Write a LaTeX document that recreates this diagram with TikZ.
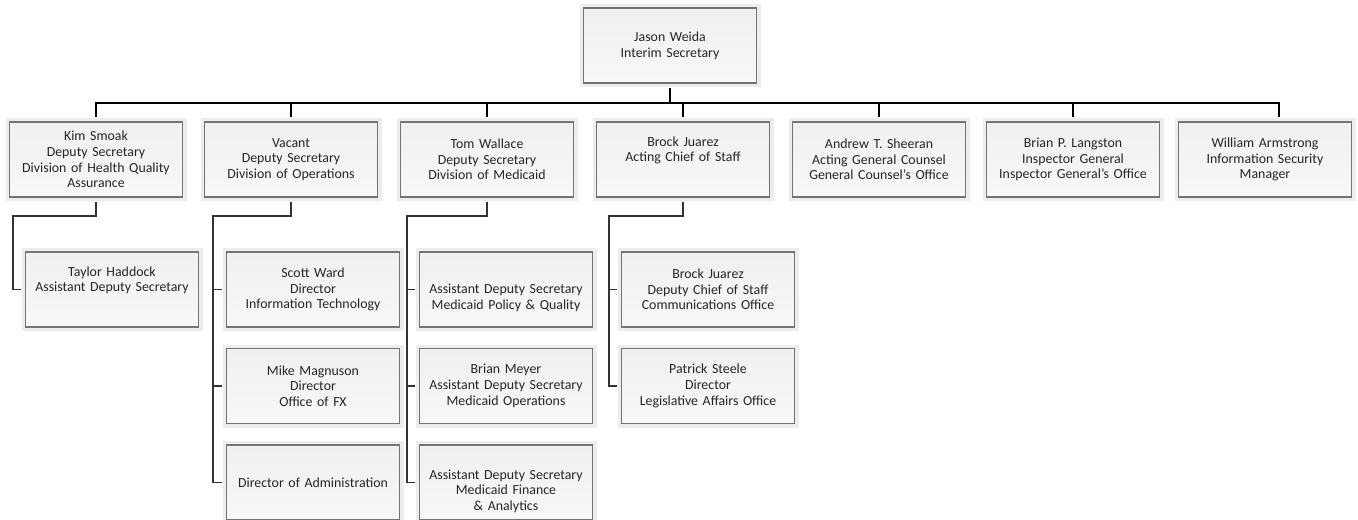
\documentclass[tikz,border=0pt]{standalone}
\usepackage{fontspec}
\setmainfont{Carlito}
\begin{document}
\begin{tikzpicture}[x=0.75pt,y=-0.75pt,
    box/.style={draw=black!55, line width=0.9pt, top color=black!6, bottom color=black!3,
      preaction={draw=black!7, line width=6pt},
      text width=122pt, align=center, inner sep=0pt, outer sep=3.75pt,
      minimum width=129.75pt, minimum height=56.25pt,
      font=\fontsize{10.4pt}{11.8pt}\selectfont, text=black!85},
    bus/.style={line width=1.5pt, black},
    link/.style={line width=1pt, black!80}]
            % one unit = one pixel of the 1358 x 520 chart, y runs downwards
            \useasboundingbox (0,0) rectangle (1358,520);
			\node[box] (top) at (670,45.5) {Jason Weida\\Interim Secretary};
            % first row, boxes 122 .. 197
			\node[box] (ks) at (96,159.5) {Kim Smoak\\Deputy Secretary\\Division of Health Quality\\Assurance};
			\node[box] (vac) at (291,159.5) {Vacant\\Deputy Secretary\\Division of Operations};
			\node[box] (tw) at (487,159.5) {Tom Wallace\\Deputy Secretary\\Division of Medicaid};
			\node[box] (bj) at (683,159.5) {Brock Juarez\\Acting Chief of Staff\\\strut};
			\node[box] (ats) at (879,159.5) {Andrew T. Sheeran\\Acting General Counsel\\General Counsel's Office};
			\node[box] (bpl) at (1073,159.5) {Brian P. Langston\\Inspector General\\Inspector General's Office};
			\node[box] (wa) at (1265,159.5) {William Armstrong\\Information Security\\Manager};
            % second level
			\node[box] (th) at (112,289.5) {Taylor Haddock\\Assistant Deputy Secretary\\\strut};
			\node[box] (sw) at (313,289.5) {Scott Ward\\Director\\Information Technology};
			\node[box] (mm) at (313,386) {Mike Magnuson\\Director\\Office of FX};
			\node[box] (doa) at (313,482.5) {Director of Administration};
			\node[box] (adsp) at (506,289.5) {\strut\\Assistant Deputy Secretary\\Medicaid Policy \& Quality};
			\node[box] (bm) at (506,386) {Brian Meyer\\Assistant Deputy Secretary\\Medicaid Operations};
			\node[box] (adsf) at (506,482.5) {\strut\\Assistant Deputy Secretary\\Medicaid Finance\\\& Analytics};
			\node[box] (bjd) at (708,289.5) {Brock Juarez\\Deputy Chief of Staff\\Communications Office};
			\node[box] (ps) at (708,386) {Patrick Steele\\Director\\Legislative Affairs Office};
            % bus under the secretary
            \coordinate (bus) at (670,103);
			\draw[bus] (top.south) -- (bus);
			\draw[bus] (bus) -| (ks.north);
			\draw[bus] (bus) -| (vac.north);
			\draw[bus] (bus) -| (tw.north);
			\draw[bus] (bus) -| (bj.north);
			\draw[bus] (bus) -| (ats.north);
			\draw[bus] (bus) -| (bpl.north);
			\draw[bus] (bus) -| ([xshift=10.5pt]wa.north); % stem sits right of centre
            % rails on the left of each column
            \coordinate (ksrail) at (13,216);
            \coordinate (vacrail) at (213,216);
            \coordinate (twrail) at (407,216);
            \coordinate (bjrail) at (609,216);
			\draw[link] (ks.south) |- (ksrail) |- (th.west);
			\draw[link] (vac.south) |- (vacrail) |- (doa.west);
			\draw[link] (vacrail |- sw.west) -- (sw.west);
			\draw[link] (vacrail |- mm.west) -- (mm.west);
			\draw[link] (tw.south) |- (twrail) |- (adsf.west);
			\draw[link] (twrail |- adsp.west) -- (adsp.west);
			\draw[link] (twrail |- bm.west) -- (bm.west);
			\draw[link] (bj.south) |- (bjrail) |- (ps.west);
			\draw[link] (bjrail |- bjd.west) -- (bjd.west);
		\end{tikzpicture}
\end{document}
